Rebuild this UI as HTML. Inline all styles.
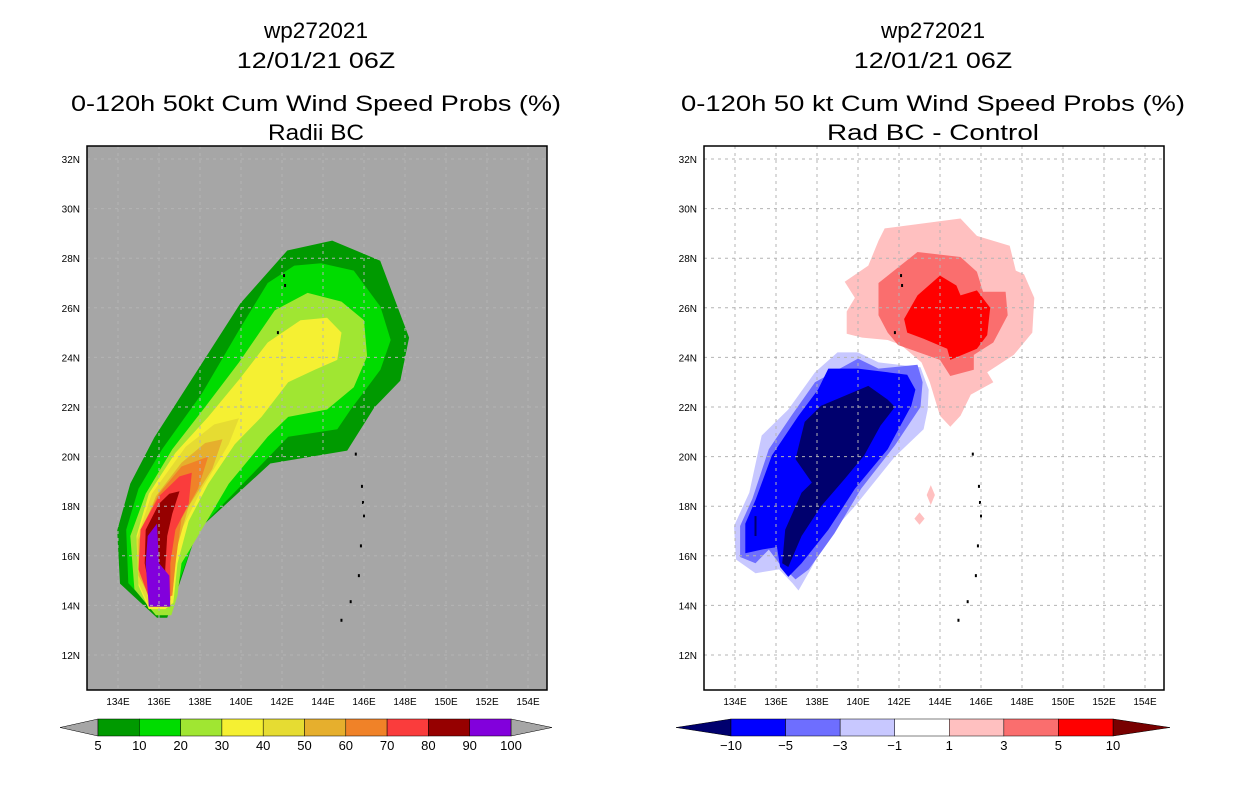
<!DOCTYPE html>
<html><head><meta charset="utf-8"><style>
html,body{margin:0;padding:0;background:#fff;}
svg{display:block;font-family:"Liberation Sans",sans-serif;}
</style></head><body>
<svg id="s" width="1236" height="800" xmlns="http://www.w3.org/2000/svg"></svg>
<script>
const lonTicks=[134,136,138,140,142,144,146,148,150,152,154];
const latTicks=[32,30,28,26,24,22,20,18,16,14,12];
const leftLevels=["5","10","20","30","40","50","60","70","80","90","100"];
const leftColors=["#009a00","#00dc00","#a0e632","#f5f032","#e6dc32","#e6af2d","#f08228","#fa3c3c","#960000","#8200dc"];
const rightLevels=["-10","-5","-3","-1","1","3","5","10"];
const rightColors=["#00006e","#0000ff","#6e6eff","#c8c8ff","#ffffff","#ffc0c0","#fa6e6e","#ff0000","#780000"];
const prob5=[[144.45,28.71],[146.79,27.9],[148.2,24.8],[147.77,23.06],[146.5,21.98],[145.18,20.24],[141.43,19.72],[137.87,17.02],[136.89,14.6],[136.4,13.5],[135.9,13.5],[134.1,14.88],[133.96,17.02],[134.6,18.91],[135.77,20.77],[137.87,23.47],[139.96,26.17],[142.26,28.31]];
const prob10=[[143.9,27.8],[145.5,27.5],[146.8,26.05],[147.3,24.7],[146.8,23.5],[145.35,21.9],[144.7,21.1],[142.3,20.8],[139.5,18.4],[137.9,17.05],[137.3,15.7],[136.9,14.8],[136.6,13.7],[135.85,13.7],[134.5,14.9],[134.4,17.05],[135,18.7],[136.15,20.3],[138.1,22.55],[139.9,25.1],[141.3,27],[142.6,27.7]];
const prob20=[[143.25,26.6],[144.9,26.25],[146,25.5],[146.15,24.05],[145.5,22.8],[144.2,21.9],[142.3,21.6],[141.3,20.8],[139.4,18.9],[137.9,16.8],[137.1,15.7],[136.9,14.4],[136.6,13.6],[135.85,13.6],[134.8,14.65],[134.6,16.8],[135.35,18.5],[136.65,20.3],[138.25,22],[139.9,23.8],[141.65,25.9]];
const prob30=[[142.9,25.5],[144.2,25.6],[144.9,25],[144.7,23.9],[143.6,23.5],[142.3,23],[141,21.6],[139.7,20.5],[138.4,18.9],[137.45,17.4],[136.9,15.7],[136.7,14.1],[136.3,13.85],[135.5,13.85],[135,14.8],[134.9,16.8],[135.5,18.5],[136.8,20.15],[138.4,21.6],[139.9,23.1],[141.3,24.6]];
const prob40=[[139.9,21.55],[139.4,20.5],[138.1,18.7],[137.1,17.05],[136.7,15.7],[136.55,14.1],[135.5,14],[135,14.9],[134.9,16.65],[135.65,18.5],[137.3,20.4],[138.7,21.3]];
const prob50=[[139.1,20.7],[138.6,19.5],[137.45,18],[136.9,16.4],[136.65,14.4],[135.7,14.1],[135,15.2],[135,16.65],[135.85,18.4],[137.1,19.75],[138.25,20.55]];
const prob60=[[138.4,20],[137.9,18.7],[137.1,17.5],[136.8,15.7],[136.65,14.4],[135.7,14.1],[135.1,15.3],[135.1,17.05],[136,18.5],[137.1,19.6]];
const prob70=[[137.6,19.35],[137.45,18.1],[136.8,17.05],[136.55,15.7],[136.55,14.2],[135.6,14.1],[135,15.45],[135.1,17.05],[136,18.4],[137,19.2]];
const prob80=[[137,18.6],[136.65,17.7],[136.4,16.8],[136.3,15.45],[136.5,13.95],[135.7,13.95],[135.3,15.7],[135.35,17.05],[136,18.1],[136.5,18.5]];
const prob90=[[135.9,17.3],[136,15.7],[136.5,15.2],[136.55,13.95],[135.5,13.95],[135.35,15.7],[135.45,16.8]];
const diffP1=[[141.3,29.2],[145,29.6],[145.8,28.9],[147.4,28.5],[147.7,27.5],[148.1,27.35],[148.6,26.4],[148.5,25],[147.6,24.1],[146.3,23.4],[146.6,23],[145.5,22.5],[145,21.65],[144.5,21.2],[144,21.65],[143.5,23],[143.1,23.8],[142.1,24.5],[141.45,24.7],[140.2,24.8],[139.45,24.95],[139.45,25.85],[139.85,26.4],[139.35,27.05],[140.5,27.7],[141,28.7]];
const diffP3=[[141,27],[142.9,28.25],[145,28.05],[145.8,27.45],[146.1,26.65],[147.2,26.65],[147.3,25.7],[146.6,24.6],[145.65,24.1],[145.65,23.5],[144.5,23.25],[144,23.9],[141.95,24.5],[141.45,25],[141,25.7]];
const diffP5=[[142.9,26.5],[144,27.3],[144.8,26.9],[145,26.5],[145.8,26.7],[146.45,26],[146.3,24.9],[145.8,24.35],[144.5,23.9],[144.35,24.35],[143.2,24.75],[142.4,25],[142.25,25.55]];
const diffM1=[[139,24.2],[140,24.2],[141,23.8],[143.05,23.6],[143.45,22.7],[143.4,21.9],[143.2,21.1],[141.8,20],[139.85,18],[138.55,16.8],[137.75,15.55],[137.1,14.6],[136.8,14.9],[136.15,15.45],[135,15.3],[134.05,15.85],[133.95,17.2],[134.7,18.55],[135.3,20.85],[136.6,21.9],[137.9,23.4]];
const diffM3=[[140,23.95],[141,23.55],[142.9,23.7],[143.15,23],[143.05,22],[141.8,20.45],[140.15,18.7],[138.85,16.9],[137.6,15.45],[136.95,15.05],[136.15,15.7],[135.65,16.25],[135,15.7],[134.25,15.95],[134.25,17.2],[134.85,18.3],[135.65,20.3],[136.75,21.65],[137.9,23]];
const diffM5=[[138.55,23.55],[140,23.55],[141.45,23.4],[142.4,23.3],[142.8,22.7],[142.6,22.05],[141.45,20.3],[139.85,18.7],[138.55,17.05],[137.25,15.7],[136.6,15.15],[136.2,15.55],[136.05,16.35],[135.3,16.25],[134.5,16.1],[134.5,17.3],[135,18.25],[135.8,20.05],[137.1,21.65],[138.05,22.7]];
const diffM10=[[138.2,22.05],[140.5,22.85],[141.45,22.3],[141.8,22],[141.1,21.25],[140.3,20.05],[139.35,19.1],[138.2,18],[137.25,16.8],[136.6,15.55],[136.3,15.7],[136.45,17.05],[137.25,18.55],[137.75,18.95],[136.95,19.9],[137.4,21.4]];
const diffBlob1=[[143.55,18.85],[143.75,18.45],[143.55,18.05],[143.35,18.45]];
const diffBlob2=[[143,17.75],[143.25,17.5],[143,17.25],[142.75,17.5]];
const diffNavySpot=[[134.95,17.6],[135.05,17.6],[135.05,16.8],[134.95,16.8]];
const islands=[[142.1,27.3],[142.15,26.9],[141.8,25.0],[145.6,20.1],[145.9,18.8],[145.95,18.15],[146,17.6],[145.85,16.4],[145.75,15.2],[145.35,14.15],[144.9,13.4]];

const NS="http://www.w3.org/2000/svg";
const svg=document.getElementById('s');
function mk(tag,attrs,parent){const e=document.createElementNS(NS,tag);for(const k in attrs)e.setAttribute(k,attrs[k]);(parent||svg).appendChild(e);return e;}
function xs(off,lon){return off+118+(lon-134)*20.5;}
function ys(lat){return 159+(32-lat)*24.8;}
function poly(off,pts,fill,name,g){const p=mk('polygon',{points:pts.map(q=>xs(off,q[0]).toFixed(1)+','+ys(q[1]).toFixed(1)).join(' '),fill:fill},g);

return p;}
function text(x,y,s,size,anchor,name,extra){const t=mk('text',Object.assign({x:x,y:y,'font-size':size,'text-anchor':anchor,fill:'#000'},extra||{}));t.textContent=s;

return t;}

function panel(off,bg,layers,titles,id){
  const cx=off+316;
  text(cx,38,titles[0],22,'middle',id+'-title-id',{textLength:titles[0].length*13,lengthAdjust:'spacingAndGlyphs'});
  text(cx,68,titles[1],22,'middle',id+'-title-date',{textLength:titles[1].length*13.2,lengthAdjust:'spacingAndGlyphs'});
  text(cx,111,titles[2],22,'middle',id+'-title-main',{textLength:titles[3],lengthAdjust:'spacingAndGlyphs'});
  text(cx,140,titles[4],22,'middle',id+'-subtitle',{textLength:titles[5],lengthAdjust:'spacingAndGlyphs'});
  const x0=off+87,w=460,y0=146,h=544;
  const g=mk('g',{});
  
  
  const cp=mk('clipPath',{id:'c'+id});mk('rect',{x:x0,y:y0,width:w,height:h},cp);
  g.setAttribute('clip-path','url(#c'+id+')');
  const bgr=mk('rect',{x:x0,y:y0,width:w,height:h,fill:bg},g);
  
  
  layers.forEach(L=>poly(off,L[0],L[1],L[2],g));
  islands.forEach(q=>{const r=mk('rect',{x:xs(off,q[0])-1,y:ys(q[1])-1.5,width:2,height:3,fill:'#000'},g);
    
    });
  lonTicks.forEach(l=>{const ln=mk('line',{x1:xs(off,l),x2:xs(off,l),y1:y0,y2:y0+h,stroke:'#b4b4b4','stroke-dasharray':'3,4','stroke-width':1},g);
    
    });
  latTicks.forEach(l=>{const ln=mk('line',{x1:x0,x2:x0+w,y1:ys(l),y2:ys(l),stroke:'#b4b4b4','stroke-dasharray':'3,4','stroke-width':1},g);
    
    });
  const fr=mk('rect',{x:x0,y:y0,width:w,height:h,fill:'none',stroke:'#000','stroke-width':1.5});
  
  
  lonTicks.forEach(l=>text(xs(off,l),705,l+'E',10,'middle','lon-tick-label'));
  latTicks.forEach(l=>text(off+80,ys(l)+4,l+'N',10,'end','lat-tick-label'));
}

panel(0,'#a6a6a6',[[prob5,leftColors[0],'contour-5'],[prob10,leftColors[1],'contour-10'],[prob20,leftColors[2],'contour-20'],[prob30,leftColors[3],'contour-30'],[prob40,leftColors[4],'contour-40'],[prob50,leftColors[5],'contour-50'],[prob60,leftColors[6],'contour-60'],[prob70,leftColors[7],'contour-70'],[prob80,leftColors[8],'contour-80'],[prob90,leftColors[9],'contour-90']],
 ['wp272021','12/01/21 06Z','0-120h 50kt Cum Wind Speed Probs (%)',490,'Radii BC',96],'left');
panel(617,'#ffffff',[[diffP1,rightColors[5],'diff-pos-1'],[diffP3,rightColors[6],'diff-pos-3'],[diffP5,rightColors[7],'diff-pos-5'],[diffBlob1,rightColors[5],'diff-pos-blob'],[diffBlob2,rightColors[5],'diff-pos-blob'],[diffM1,rightColors[3],'diff-neg-1'],[diffM3,rightColors[2],'diff-neg-3'],[diffM5,rightColors[1],'diff-neg-5'],[diffM10,rightColors[0],'diff-neg-10'],[diffNavySpot,rightColors[0],'diff-neg-spot']],
 ['wp272021','12/01/21 06Z','0-120h 50 kt Cum Wind Speed Probs (%)',504,'Rad BC - Control',212],'right');

function colorbar(x0,x1,tl,tr,colors,labels,lc,rc,id){
  const y0=719,y1=736,ym=727.5,bw=(x1-x0)/colors.length;
  const a=mk('polygon',{points:`${tl},${ym} ${x0},${y0} ${x0},${y1}`,fill:lc,stroke:'#000','stroke-width':0.5});
  
  
  const b=mk('polygon',{points:`${tr},${ym} ${x1},${y0} ${x1},${y1}`,fill:rc,stroke:'#000','stroke-width':0.5});
  
  
  colors.forEach((c,i)=>{const r=mk('rect',{x:x0+i*bw,y:y0,width:bw,height:y1-y0,fill:c,stroke:'#000','stroke-width':0.5});
    
    });
  labels.forEach((s,i)=>text(x0+i*bw,750,s.replace('-','\u2212'),13,'middle',id+'-label'));
}
colorbar(98,511,60,552,leftColors,leftLevels,'#a6a6a6','#a6a6a6','left-colorbar');
colorbar(731,1113,676,1170,rightColors.slice(1,8),rightLevels,rightColors[0],rightColors[8],'right-colorbar');
</script>
</body></html>
